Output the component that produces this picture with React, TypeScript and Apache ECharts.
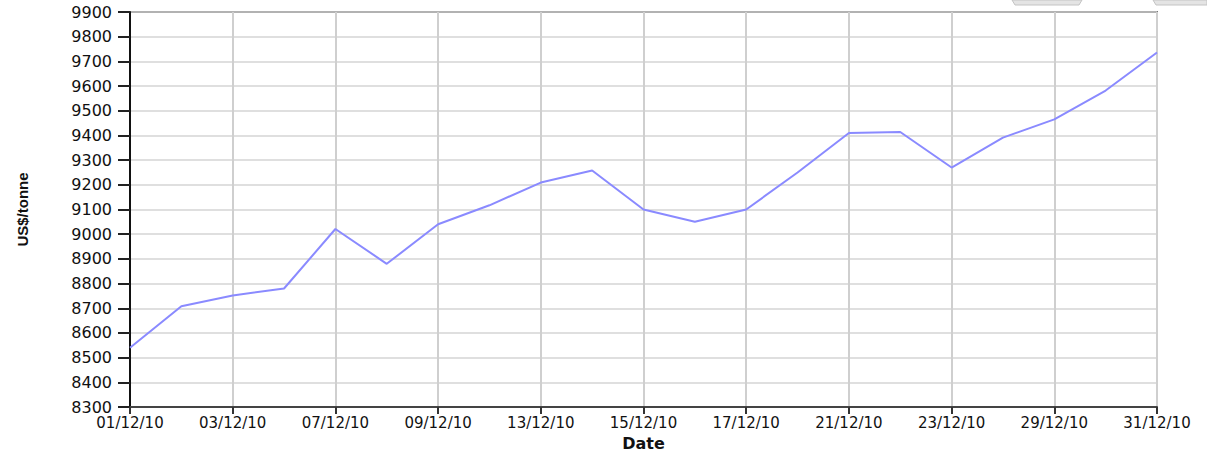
import React, { useEffect, useRef } from "react";
import * as echarts from "echarts";

const dates = [
  "01/12/10", "02/12/10", "03/12/10", "06/12/10", "07/12/10", "08/12/10", "09/12/10",
  "10/12/10", "13/12/10", "14/12/10", "15/12/10", "16/12/10", "17/12/10", "20/12/10",
  "21/12/10", "22/12/10", "23/12/10", "24/12/10", "29/12/10", "30/12/10", "31/12/10",
];
const prices = [
  8540, 8708, 8752, 8780, 9021, 8880, 9040,
  9117, 9209, 9258, 9100, 9050, 9100, 9250,
  9410, 9414, 9270, 9391, 9465, 9582, 9736,
];
const yMin = 8300;
const yMax = 9900;
const yStep = 100;

export default function App() {
  const ref = useRef<HTMLDivElement>(null);
  useEffect(() => {
    if (!ref.current) return;
    const chart = echarts.init(ref.current, undefined, { renderer: "svg" });
    chart.setOption({
      animation: false,
      backgroundColor: "#ffffff",
      grid: {
        left: 130,
        right: 50,
        top: 12,
        bottom: 47,
        show: true,
        borderColor: "#111",
        borderWidth: 1.5,
      },
      xAxis: {
        type: "category",
        data: dates,
        boundaryGap: false,
        name: "Date",
        nameLocation: "middle",
        nameGap: 28,
        nameTextStyle: { fontFamily: "DejaVu Sans", fontWeight: "bold", fontSize: 16, color: "#111" },
        axisLine: { lineStyle: { color: "#444", width: 2 } },
        axisTick: { show: true, interval: 1, length: 7, lineStyle: { color: "#333", width: 2 } },
        axisLabel: {
          interval: 1,
          margin: 8,
          fontFamily: "DejaVu Sans",
          fontSize: 15,
          color: "#111",
        },
        splitLine: { show: true, interval: 1, lineStyle: { color: "#cfcfcf", width: 2 } },
      },
      yAxis: {
        type: "value",
        min: yMin,
        max: yMax,
        interval: yStep,
        name: "US$/tonne",
        nameLocation: "middle",
        nameGap: 100,
        nameRotate: 90,
        nameTextStyle: {
          fontFamily: "Liberation Sans Narrow, Liberation Sans, Arial",
          fontWeight: "bold",
          fontSize: 15,
          color: "#111",
        },
        axisLine: { show: true, lineStyle: { color: "#111", width: 2 } },
        axisTick: { show: true, length: 12, lineStyle: { color: "#222", width: 2 } },
        axisLabel: {
          margin: 18,
          fontFamily: "DejaVu Sans",
          fontSize: 16,
          color: "#111",
          formatter: (v: number) => String(v),
        },
        splitLine: { show: true, lineStyle: { color: "#d4d4d4", width: 1.5 } },
      },
      series: [
        {
          type: "line",
          data: prices,
          symbol: "none",
          lineStyle: { color: "#8a8aff", width: 2 },
        },
      ],
      graphic: [
        {
          type: "polygon",
          shape: { points: [[1012, 0], [1082, 0], [1079, 5], [1015, 5]] },
          style: { fill: "#e4e4e4", stroke: "#c4c4c4", lineWidth: 1 },
        },
        {
          type: "polygon",
          shape: { points: [[1153, 0], [1207, 0], [1207, 5], [1156, 5]] },
          style: { fill: "#e4e4e4", stroke: "#c4c4c4", lineWidth: 1 },
        },
      ],
    });
    return () => chart.dispose();
  }, []);
  return (
    <div
      ref={ref}
      style={{ position: "fixed", left: 0, top: 0, width: 1207, height: 456, background: "#fff" }}
    />
  );
}
